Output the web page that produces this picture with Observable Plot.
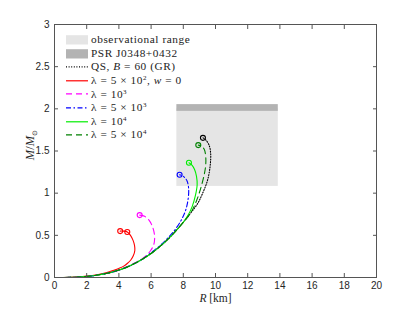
<!DOCTYPE html>
<html><head><meta charset="utf-8">
<script src="https://cdn.jsdelivr.net/npm/d3@7"></script>
<script src="https://cdn.jsdelivr.net/npm/@observablehq/plot@0.6"></script>
<style>
body{margin:0;background:#fff;}
#wrap{position:relative;width:415px;height:312px;}
#legend{position:absolute;left:66px;top:33px;font-family:"Liberation Serif",serif;font-size:11.3px;letter-spacing:0.55px;color:#222;line-height:1;}
.row{display:flex;align-items:center;height:13.6px;white-space:nowrap;}
.row svg{margin-right:3px;flex:none;}
.row span{white-space:pre;}
sup{font-size:7px;vertical-align:4px;}
</style></head><body><div id="wrap"></div>
<script>
// ---- data ----
const xTicks = [0, 2, 4, 6, 8, 10, 12, 14, 16, 18, 20];
const yTicks = [0, 0.5, 1, 1.5, 2, 2.5, 3];
const obsR = [7.6, 13.9];
const obsM = [1.08, 2.0];
const psrM = [1.97, 2.05];

const R_qs = [0,0.5,1,1.5,2,2.5,3,3.5,4,4.5,5,5.5,6,6.5,7,7.5,8,8.5,8.9,9.18,9.5,9.66,9.7,9.6,9.4,9.22];
const M_qs = [0,0.0002,0.0015,0.005,0.013,0.024,0.04,0.06,0.088,0.123,0.168,0.222,0.285,0.36,0.445,0.545,0.655,0.775,0.88,0.99,1.15,1.31,1.47,1.57,1.63,1.656];

const R_l500 = [0,0.5,1,1.5,2,2.44,3,3.4,3.69,4.0,4.3,4.52,4.75,4.9,4.99,4.97,4.88,4.72,4.52,4.3,4.08];
const M_l500 = [0,0.0003,0.002,0.007,0.016,0.027,0.048,0.068,0.086,0.108,0.135,0.166,0.21,0.26,0.32,0.38,0.44,0.5,0.54,0.55,0.55];

const R_l1e3 = [0,0.5,1,1.5,2,2.5,3,3.5,4,4.52,5.0,5.35,5.7,5.97,6.15,6.22,6.18,6.05,5.87,5.6,5.29];
const M_l1e3 = [0,0.0002,0.0015,0.005,0.013,0.024,0.04,0.06,0.09,0.13,0.175,0.21,0.26,0.32,0.38,0.46,0.54,0.62,0.68,0.725,0.74];

const R_l5e3 = [0,0.5,1,1.5,2,2.5,3,3.5,4,4.5,5,5.5,6,6.5,7,7.5,7.9,8.15,8.3,8.33,8.22,8.0,7.77];
const M_l5e3 = [0,0.0002,0.0015,0.005,0.013,0.024,0.04,0.06,0.088,0.123,0.168,0.222,0.295,0.37,0.46,0.57,0.69,0.8,0.93,1.06,1.15,1.2,1.218];

const R_l1e4 = [0,0.5,1,1.5,2,2.5,3,3.5,4,4.5,5,5.5,6,6.5,7,7.5,8,8.3,8.55,8.75,8.86,8.82,8.7,8.55,8.35];
const M_l1e4 = [0,0.0002,0.0015,0.005,0.013,0.024,0.04,0.06,0.088,0.123,0.168,0.222,0.285,0.36,0.445,0.545,0.655,0.74,0.84,0.97,1.1,1.2,1.28,1.33,1.36];

const R_l5e4 = [0,0.5,1,1.5,2,2.5,3,3.5,4,4.5,5,5.5,6,6.5,7,7.5,8,8.5,8.85,9.1,9.3,9.39,9.39,9.3,9.12,8.93];
const M_l5e4 = [0,0.0002,0.0015,0.005,0.013,0.024,0.04,0.06,0.088,0.123,0.168,0.222,0.285,0.36,0.445,0.545,0.655,0.78,0.925,1.07,1.22,1.33,1.44,1.52,1.56,1.57];

const markR = [9.22, 4.08, 4.52, 5.29, 7.77, 8.35, 8.93];
const markM = [1.656, 0.55, 0.54, 0.74, 1.218, 1.36, 1.57];
const markKey = ["qs", "l500", "l500", "l1e3", "l5e3", "l1e4", "l5e4"];

// ---- styles ----
const series = [
  {key: "qs",   R: R_qs,   M: M_qs,   color: "#000000", dash: "1,1.6", label: "QS, <i>B</i> = 60 (GR)"},
  {key: "l500", R: R_l500, M: M_l500, color: "#ff0000", dash: null,    label: "λ = 5 × 10<sup>2</sup>, <i>w</i> = 0"},
  {key: "l1e3", R: R_l1e3, M: M_l1e3, color: "#ff00ff", dash: "6,4",   label: "λ = 10<sup>3</sup>"},
  {key: "l5e3", R: R_l5e3, M: M_l5e3, color: "#0000ff", dash: "5,2.5,1.5,2.5", label: "λ = 5 × 10<sup>3</sup>"},
  {key: "l1e4", R: R_l1e4, M: M_l1e4, color: "#00ee00", dash: null,    label: "λ = 10<sup>4</sup>"},
  {key: "l5e4", R: R_l5e4, M: M_l5e4, color: "#008000", dash: "6,4",   label: "λ = 5 × 10<sup>4</sup>"}
];
const colorOf = Object.fromEntries(series.map(s => [s.key, s.color]));
const markers = markR.map((r, i) => ({R: r, M: markM[i], c: colorOf[markKey[i]]}));

const axisColor = "#555";
const lineMarks = series.map(s => Plot.line(s.R.map((r, i) => ({R: r, M: s.M[i]})), {
  x: "R", y: "M", stroke: s.color, strokeWidth: 1.1, strokeDasharray: s.dash, curve: "catmull-rom"
}));

const plot = Plot.plot({
  width: 415, height: 312,
  marginLeft: 54, marginRight: 39, marginTop: 24, marginBottom: 35,
  style: {fontFamily: "'Liberation Sans', Arial, sans-serif", fontSize: "10px", background: "white", color: "#262626"},
  x: {domain: [0, 20]},
  y: {domain: [0, 3]},
  marks: [
    Plot.rect([0], {x1: () => obsR[0], x2: () => obsR[1], y1: () => obsM[0], y2: () => obsM[1], fill: "#e5e5e5"}),
    Plot.rect([0], {x1: () => obsR[0], x2: () => obsR[1], y1: () => psrM[0], y2: () => psrM[1], fill: "#b3b3b3"}),
    ...lineMarks,
    Plot.dot(markers, {x: "R", y: "M", stroke: "c", r: 2.5, strokeWidth: 1.1}),
    Plot.frame({stroke: axisColor}),
    Plot.axisX(xTicks, {anchor: "bottom", tickSize: -4, tickPadding: 8, stroke: axisColor, label: null}),
    Plot.axisX(xTicks, {anchor: "top", tickSize: -4, tickFormat: () => "", stroke: axisColor, label: null}),
    Plot.axisY(yTicks, {anchor: "left", tickSize: -4, tickPadding: 9, stroke: axisColor, label: null, tickFormat: d => String(d)}),
    Plot.axisY(yTicks, {anchor: "right", tickSize: -4, tickFormat: () => "", stroke: axisColor, label: null}),
    Plot.text(["MM"], {frameAnchor: "left", textAnchor: "middle", dx: -25, dy: -6, rotate: -90, fontFamily: "'Liberation Serif', serif", fontSize: 12.5, fill: "#262626"}),
    Plot.text(["R [km]"], {frameAnchor: "bottom", dy: 24, fontFamily: "'Liberation Serif', serif", fontSize: 11.5, fill: "#262626"})
  ]
});

// rich text for axis titles
d3.select(plot).selectAll("text").each(function() {
  if (this.textContent === "MM") {
    this.innerHTML = '<tspan font-style="italic">M</tspan>/<tspan font-style="italic">M</tspan><tspan font-size="7" dy="3">⊙</tspan>';
  } else if (this.textContent === "R [km]") {
    this.innerHTML = '<tspan font-style="italic">R</tspan> [km]';
  }
});

const wrap = document.getElementById("wrap");
wrap.appendChild(plot);

// legend
const legend = document.createElement("div");
legend.id = "legend";
function swatch(html) { return `<svg width="22" height="13.6" viewBox="0 0 22 13.6">${html}</svg>`; }
let rows = "";
rows += `<div class="row">${swatch('<rect x="0" y="2.2" width="22" height="9.3" fill="#e5e5e5"/>')}<span>observational range</span></div>`;
rows += `<div class="row">${swatch('<rect x="0" y="2.2" width="22" height="9.3" fill="#b3b3b3"/>')}<span>PSR J0348+0432</span></div>`;
for (const s of series) {
  rows += `<div class="row">${swatch(`<line x1="0" x2="22" y1="6.8" y2="6.8" stroke="${s.color}" stroke-width="1.2" ${s.dash ? `stroke-dasharray="${s.dash}"` : ""}/>`)}<span>${s.label}</span></div>`;
}
legend.innerHTML = rows;
wrap.appendChild(legend);
</script>
</body></html>
